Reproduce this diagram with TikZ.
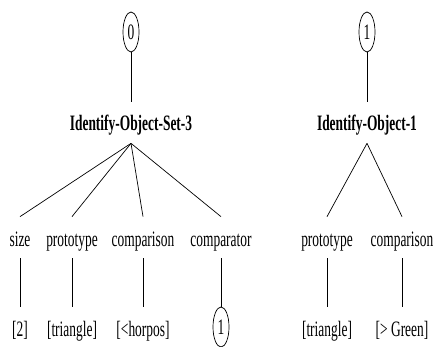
\documentclass[tikz,border=0pt]{standalone}
\usepackage{fontspec}
\setmainfont[FakeStretch=0.61]{Liberation Serif}
\usetikzlibrary{shapes.geometric}

\begin{document}
\begin{tikzpicture}[x=1pt,y=-1pt,line width=0.7pt,
		font=\fontsize{22}{26}\selectfont,
		word/.style={inner sep=0pt, text height=29pt, text depth=12pt, anchor=base},
		head/.style={word, font=\fontsize{22}{26}\selectfont\bfseries},
		leaf/.style={draw, ellipse, inner sep=0pt, minimum width=16pt, minimum height=40pt}]
		\useasboundingbox (0,0) rectangle (433,347);

		%left tree
		\node[leaf] (c0) at (131,32) {0};
		\node[head] (set3) at (131,131) {Identify-Object-Set-3};

		\node[word] (size) at (20,246) {size};
		\node[word] (proto) at (72,246) {prototype};
		\node[word] (comp) at (143,246) {comparison};
		\node[word] (compr) at (221,246) {comparator};

		\node[word] (sizeval) at (20,336) {[2]};
		\node[word] (protoval) at (72,336) {[triangle]};
		\node[word] (compval) at (143,336) {[<horpos]};
		\node[leaf] (c2) at (221,327) {1};

		\draw (c0) -- (set3);
		\draw (set3.south) -- (size.north);
		\draw (set3.south) -- (proto.north);
		\draw (set3.south) -- (comp.north);
		\draw (set3.south) -- (compr.north);
		\draw (size) -- (sizeval);
		\draw (proto) -- (protoval);
		\draw (comp) -- (compval);
		\draw (compr) -- (c2);

		%right tree
		\node[leaf] (c1) at (367,32) {1};
		\node[head] (obj1) at (367,131) {Identify-Object-1};

		\node[word] (proto2) at (327,246) {prototype};
		\node[word] (comp2) at (402,246) {comparison};

		\node[word] (protoval2) at (327,336) {[triangle]};
		\node[word] (compval2) at (402,336) {[> Green]};

		\draw (c1) -- (obj1);
		\draw (obj1.south) -- (proto2.north);
		\draw (obj1.south) -- (comp2.north);
		\draw (proto2) -- (protoval2);
		\draw (comp2) -- (compval2);

	\end{tikzpicture}
\end{document}
